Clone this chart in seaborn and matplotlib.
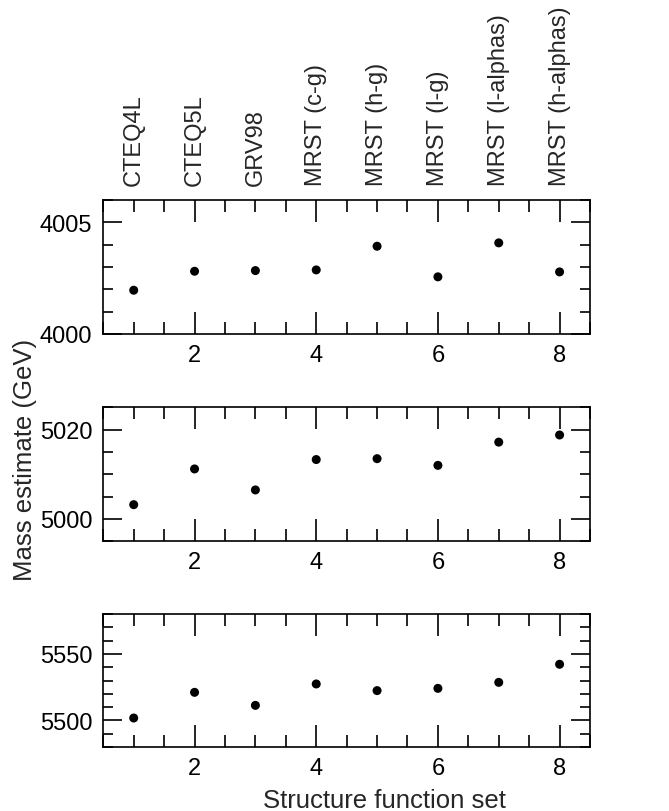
import numpy as np
import pandas as pd
import matplotlib
matplotlib.use('Agg')
import matplotlib.pyplot as plt
from matplotlib.ticker import MultipleLocator
import seaborn as sns

# data
pdf_names = ['CTEQ4L', 'CTEQ5L', 'GRV98', 'MRST (c-g)', 'MRST (h-g)',
             'MRST (l-g)', 'MRST (l-alphas)', 'MRST (h-alphas)']
pdf_set = [1, 2, 3, 4, 5, 6, 7, 8]
mass_4000 = [4001.96, 4002.81, 4002.84, 4002.87, 4003.93, 4002.56, 4004.08, 4002.78]
mass_5000 = [5003.2, 5011.2, 5006.5, 5013.3, 5013.5, 5012.0, 5017.2, 5018.8]
mass_5500 = [5501.8, 5521.1, 5511.3, 5527.4, 5522.4, 5524.1, 5528.6, 5542.2]

# y ranges and tick steps per panel
ylims = [(4000, 4006), (4995, 5025), (5480, 5580)]
ymajor = [5, 20, 50]
yminor = [1, 5, 10]

fs = 17
fs_lab = 18.5

sns.set_style('ticks')
plt.rcParams['font.family'] = ['Liberation Sans', 'DejaVu Sans']
plt.rcParams['font.size'] = fs

fig = plt.figure(figsize=(6.69, 8.12), dpi=100)
left, width = 103.3 / 669, (590 - 103.3) / 669
tops = [201, 408.3, 615]
bottoms = [335, 542.3, 748]

for i, masses in enumerate([mass_4000, mass_5000, mass_5500]):
    ax = fig.add_axes([left, 1 - bottoms[i] / 812, width, (bottoms[i] - tops[i]) / 812])
    df = pd.DataFrame({'set': pdf_set, 'mass': masses})
    sns.scatterplot(data=df, x='set', y='mass', ax=ax, color='black',
                    s=42, edgecolor='none', linewidth=0)
    ax.set_xlim(0.5, 8.5)
    ax.set_ylim(*ylims[i])
    ax.xaxis.set_major_locator(MultipleLocator(2))
    ax.xaxis.set_minor_locator(MultipleLocator(0.5))
    ax.yaxis.set_major_locator(MultipleLocator(ymajor[i]))
    ax.yaxis.set_minor_locator(MultipleLocator(yminor[i]))
    ax.set_xlabel('')
    ax.set_ylabel('')
    for sp in ax.spines.values():
        sp.set_linewidth(1.2)
        sp.set_color('black')
    ax.tick_params(axis='both', which='both', direction='in', top=True, right=True,
                   width=1.2, color='black', labelsize=fs, labelcolor='black')
    ax.tick_params(axis='x', which='major', length=16, pad=7)
    ax.tick_params(axis='x', which='minor', length=8.5)
    ax.tick_params(axis='y', which='major', length=14, pad=8)
    ax.tick_params(axis='y', which='minor', length=7)

    if i == 0:
        top = ax.secondary_xaxis('top')
        top.set_ticks(pdf_set, labels=pdf_names)
        top.tick_params(length=0, pad=11, labelsize=fs, labelrotation=90)
        top.spines['top'].set_visible(False)

# shared labels, placed as in the original page
fig.text(0.575, 0.005, 'Structure function set', fontsize=fs_lab,
         ha='center', va='baseline')
fig.text(0.037, 0.434, 'Mass estimate (GeV)', rotation=90, fontsize=fs_lab,
         ha='center', va='center')

plt.savefig('out.png', dpi=100)
